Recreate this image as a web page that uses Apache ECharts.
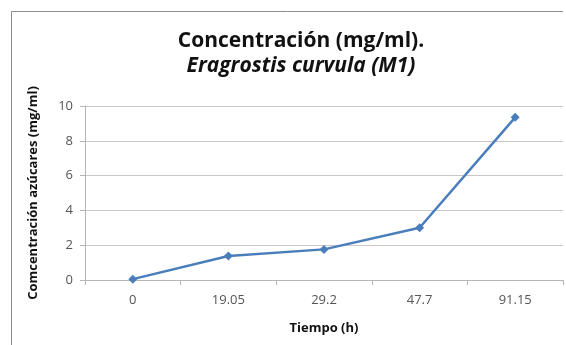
<!DOCTYPE html>
<html>
<head>
<meta charset="utf-8">
<style>
  html, body { margin: 0; padding: 0; background: #fff; }
  #chart { width: 566px; height: 345px; }
</style>
<script src="https://cdn.jsdelivr.net/npm/echarts@6/dist/echarts.min.js"></script>
</head>
<body>
<div id="chart"></div>
<script>
// Sampling times (h) and measured sugar concentration (mg/ml)
const tiempos = ['0', '19.05', '29.2', '47.7', '91.15'];
const concentracion = [0.05, 1.38, 1.76, 3.0, 9.35];
const yTicks = { min: 0, max: 10, interval: 2 };

const FONT = '"Open Sans", "Liberation Sans", sans-serif';
const chart = echarts.init(document.getElementById('chart'), null, { renderer: 'canvas' });

chart.setOption({
  animation: false,
  backgroundColor: '#ffffff',
  graphic: [
    {
      // chart frame (left and top edges)
      type: 'polyline',
      shape: { points: [[11.5, 345], [11.5, 11.5], [563, 11.5]] },
      style: { fill: 'none', stroke: '#8c8c8c', lineWidth: 1 },
      silent: true
    }
  ],
  title: {
    text: 'Concentración (mg/ml).',
    subtext: 'Eragrostis curvula (M1)',
    left: 296,
    top: 26,
    textAlign: 'center',
    itemGap: 4,
    textStyle: { fontFamily: FONT, fontSize: 21, fontWeight: 'bold', color: '#111' },
    subtextStyle: { fontFamily: FONT, fontSize: 21, fontStyle: 'italic', fontWeight: 'bold', color: '#111' }
  },
  grid: { left: 85, right: 3, top: 106, bottom: 65, containLabel: false },
  xAxis: {
    type: 'category',
    data: tiempos,
    boundaryGap: true,
    name: 'Tiempo (h)',
    nameLocation: 'middle',
    nameGap: 42,
    nameTextStyle: { fontFamily: FONT, fontSize: 13, fontWeight: 'bold', color: '#111' },
    axisLine: { lineStyle: { color: '#b5b5b5', width: 1 } },
    axisTick: { show: true, alignWithLabel: false, length: 5, lineStyle: { color: '#b5b5b5' } },
    axisLabel: { fontFamily: FONT, fontSize: 13, color: '#555', margin: 14 },
    splitLine: { show: false }
  },
  yAxis: {
    type: 'value',
    min: yTicks.min,
    max: yTicks.max,
    interval: yTicks.interval,
    name: 'Comcentración azúcares (mg/ml)',
    nameLocation: 'middle',
    nameGap: 45,
    nameRotate: 90,
    nameTextStyle: { fontFamily: FONT, fontSize: 13, fontWeight: 'bold', color: '#111' },
    axisLine: { show: true, lineStyle: { color: '#b5b5b5', width: 1 } },
    axisTick: { show: true, length: 5, inside: false, lineStyle: { color: '#b5b5b5' } },
    axisLabel: { fontFamily: FONT, fontSize: 13, color: '#555', margin: 12 },
    splitLine: { show: true, lineStyle: { color: '#c8c8c8', width: 1 } }
  },
  series: [
    {
      type: 'line',
      data: concentracion,
      symbol: 'diamond',
      symbolSize: 9,
      lineStyle: { color: '#4a7ebb', width: 2.5 },
      itemStyle: { color: '#4a7ebb' }
    }
  ]
});
</script>
</body>
</html>
